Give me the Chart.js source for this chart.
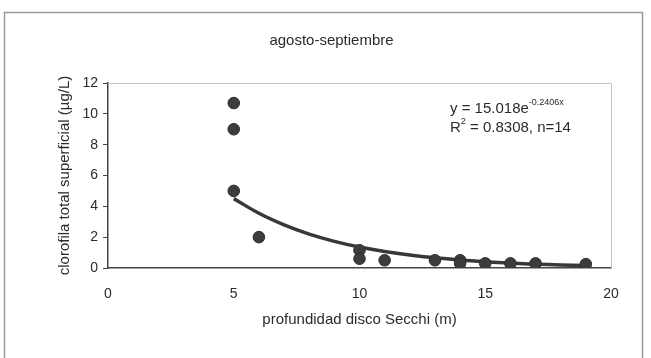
<!DOCTYPE html>
<html>
<head>
<meta charset="utf-8">
<script src="https://cdn.jsdelivr.net/npm/chart.js@4/dist/chart.umd.min.js"></script>
<style>
  html, body { margin: 0; padding: 0; background: #ffffff; }
  #wrap { width: 651px; height: 358px; }
</style>
</head>
<body>
<div id="wrap"><canvas id="chlCanvas" width="651" height="358"></canvas></div>
<script>
// measured points: Secchi depth (m) vs chlorophyll (ug/L)
const secchiX = [5, 5, 5, 6, 10, 10, 11, 13, 14, 14, 15, 16, 17, 19];
const chlY = [10.7, 9.0, 5.0, 2.0, 1.15, 0.6, 0.5, 0.5, 0.5, 0.3, 0.3, 0.3, 0.3, 0.25];

// trend curve
const trendX = [5, 6, 7, 8, 9, 10, 11, 12, 13, 14, 15, 16, 17, 18, 19];
const trendY = [4.5, 3.55, 2.8, 2.2, 1.73, 1.36, 1.07, 0.84, 0.66, 0.52, 0.41, 0.32, 0.25, 0.2, 0.16];

const xTicks = [0, 5, 10, 15, 20];
const yTicks = [0, 2, 4, 6, 8, 10, 12];

const inkColor = "#2b2b2b";
const fontFam = "'Liberation Sans', Arial, sans-serif";

function toPts(xs, ys) {
  return xs.map((x, i) => ({ x: x, y: ys[i] }));
}

// frame around the whole figure + plot area border + equation text
const decorPlugin = {
  id: "decor",
  beforeDraw(chart) {
    const ctx = chart.ctx;
    ctx.save();
    ctx.strokeStyle = "#9a9a9a";
    ctx.lineWidth = 1.5;
    ctx.strokeRect(4.5, 12.5, 638, 360);
    ctx.restore();
  },
  afterDraw(chart) {
    const ctx = chart.ctx;
    const a = chart.chartArea;
    ctx.save();
    ctx.strokeStyle = "#c4c4c4";
    ctx.lineWidth = 1;
    ctx.beginPath();
    ctx.moveTo(a.left, a.top + 0.5);
    ctx.lineTo(a.right + 0.5, a.top + 0.5);
    ctx.lineTo(a.right + 0.5, a.bottom);
    ctx.stroke();

    ctx.fillStyle = inkColor;
    ctx.textBaseline = "alphabetic";
    const big = "15px " + fontFam;
    const small = "9px " + fontFam;
    let x0 = 450;
    ctx.font = big;
    let t1 = "y = 15.018e";
    ctx.fillText(t1, x0, 113);
    let w1 = ctx.measureText(t1).width;
    ctx.font = small;
    ctx.fillText("-0.2406x", x0 + w1, 105);

    ctx.font = big;
    ctx.fillText("R", x0, 132);
    let wr = ctx.measureText("R").width;
    ctx.font = small;
    ctx.fillText("2", x0 + wr, 124);
    let w2 = ctx.measureText("2").width;
    ctx.font = big;
    ctx.fillText(" = 0.8308, n=14", x0 + wr + w2, 132);
    ctx.restore();
  }
};

const ctx = document.getElementById("chlCanvas").getContext("2d");

Chart.defaults.font.family = fontFam;
Chart.defaults.color = inkColor;

new Chart(ctx, {
  type: "scatter",
  data: {
    datasets: [
      {
        label: "ajuste",
        type: "line",
        data: toPts(trendX, trendY),
        borderColor: "#383838",
        borderWidth: 3.5,
        pointRadius: 0,
        tension: 0.4,
        fill: false,
        order: 2
      },
      {
        label: "datos",
        data: toPts(secchiX, chlY),
        backgroundColor: "#3c3c3c",
        borderColor: "#2e2e2e",
        borderWidth: 1,
        pointRadius: 5.8,
        order: 1
      }
    ]
  },
  options: {
    responsive: false,
    animation: false,
    devicePixelRatio: 1,
    layout: {
      padding: { left: 52, right: 40, top: 0, bottom: 26 }
    },
    plugins: {
      legend: { display: false },
      tooltip: { enabled: false },
      title: {
        display: true,
        text: "agosto-septiembre",
        color: inkColor,
        font: { size: 15, weight: "normal" },
        padding: { top: 32, bottom: 33 }
      }
    },
    scales: {
      x: {
        type: "linear",
        min: 0,
        max: 20,
        afterBuildTicks(scale) {
          scale.ticks = xTicks.map((v) => ({ value: v }));
        },
        afterFit(scale) {
          scale.height = 64;
        },
        grid: { display: false, drawOnChartArea: false },
        border: { display: true, color: "#444444", width: 1.5 },
        ticks: { font: { size: 14 }, padding: 10, color: inkColor },
        title: {
          display: true,
          text: "profundidad disco Secchi (m)",
          font: { size: 15 },
          color: inkColor,
          padding: { top: 4, bottom: 3 }
        }
      },
      y: {
        type: "linear",
        min: 0,
        max: 12,
        afterBuildTicks(scale) {
          scale.ticks = yTicks.map((v) => ({ value: v }));
        },
        afterFit(scale) {
          scale.width = 56;
        },
        grid: {
          display: true,
          drawOnChartArea: false,
          drawTicks: true,
          tickLength: 5,
          color: "#444444"
        },
        border: { display: true, color: "#444444", width: 1.5 },
        ticks: { font: { size: 14 }, padding: 5, color: inkColor },
        title: {
          display: true,
          text: "clorofila total superficial (µg/L)",
          font: { size: 15 },
          color: inkColor,
          padding: { top: 4, bottom: 4 }
        }
      }
    }
  },
  plugins: [decorPlugin]
});
</script>
</body>
</html>
